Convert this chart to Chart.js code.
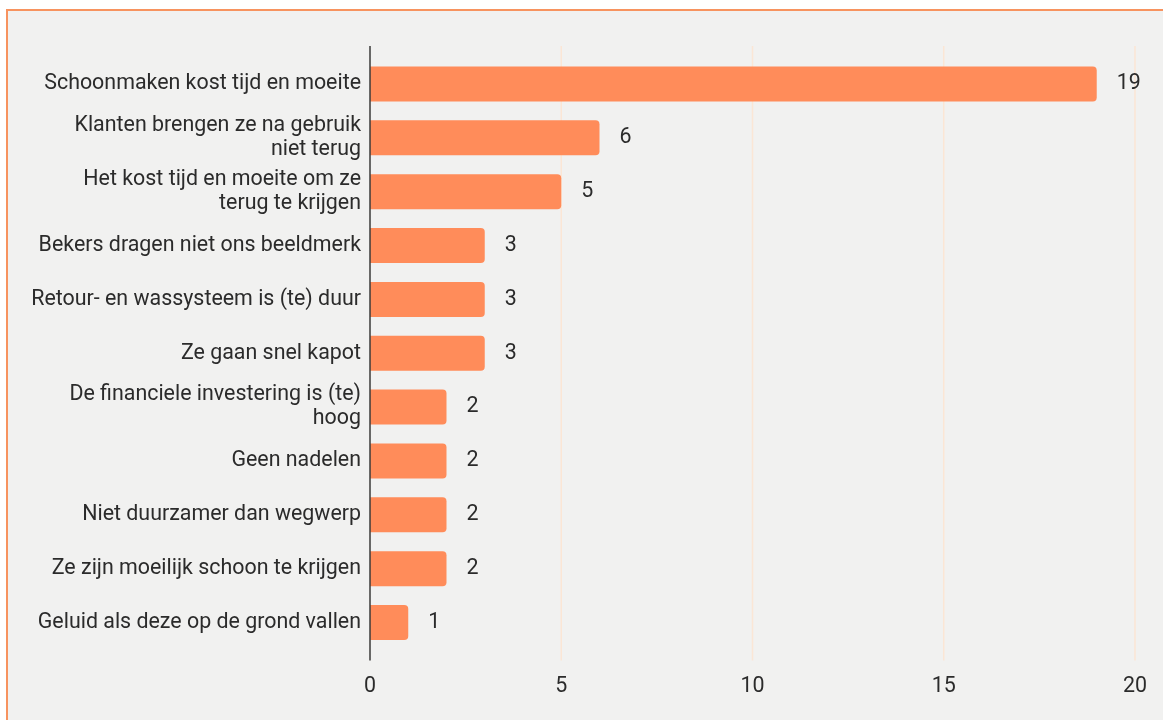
<!DOCTYPE html>
<html>
<head>
<meta charset="utf-8">
<script src="https://cdn.jsdelivr.net/npm/chart.js@4"></script>
<style>
  html, body { margin: 0; padding: 0; background: #ffffff; width: 1163px; height: 720px; overflow: hidden; }
  #frame { position: absolute; left: 6px; top: 9px; width: 1180px; height: 740px; background: #f1f1f0; border: 2px solid #f7935f; box-sizing: border-box; }
  #wrap { position: absolute; left: 0; top: 0; width: 1163px; height: 720px; }
</style>
</head>
<body>
<div id="frame"></div>
<div id="wrap"><canvas id="c" width="1163" height="720"></canvas></div>
<script>
// Nadelen van herbruikbare bekers (aantal vermeldingen)
const categories = [
  'Schoonmaken kost tijd en moeite',
  ['Klanten brengen ze na gebruik', 'niet terug'],
  ['Het kost tijd en moeite om ze', 'terug te krijgen'],
  'Bekers dragen niet ons beeldmerk',
  'Retour- en wassysteem is (te) duur',
  'Ze gaan snel kapot',
  ['De financiele investering is (te)', 'hoog'],
  'Geen nadelen',
  'Niet duurzamer dan wegwerp',
  'Ze zijn moeilijk schoon te krijgen',
  'Geluid als deze op de grond vallen'
];
const counts = [19, 6, 5, 3, 3, 3, 2, 2, 2, 2, 1];
const axisMin = 0, axisMax = 20, axisStep = 5;

const textColor = '#2b2b2b';
const barColor = '#ff8c5a';
const gridColor = '#fbe6d5';
const axisColor = '#3a3a3a';
const fontFamily = 'Roboto, "Liberation Sans", sans-serif';
const fontSize = 21.4;
const ext = 11; // how far the axis and grid lines run past the plot area

// Axis/grid extensions and value labels
const decor = {
  id: 'decor',
  beforeDatasetsDraw(chart) {
    const { ctx, chartArea, scales } = chart;
    const x = scales.x;
    ctx.save();
    ctx.lineWidth = 1.5;
    x.ticks.forEach(t => {
      if (t.value === 0) return;
      const px = x.getPixelForValue(t.value);
      ctx.strokeStyle = gridColor;
      ctx.beginPath();
      ctx.moveTo(px, chartArea.top - ext);
      ctx.lineTo(px, chartArea.bottom + ext);
      ctx.stroke();
    });
    ctx.restore();
  },
  afterDatasetsDraw(chart) {
    const { ctx, chartArea, scales } = chart;
    const x0 = scales.x.getPixelForValue(0);
    ctx.save();
    ctx.strokeStyle = axisColor;
    ctx.lineWidth = 1.5;
    ctx.beginPath();
    ctx.moveTo(x0, chartArea.top - ext);
    ctx.lineTo(x0, chartArea.bottom + ext);
    ctx.stroke();

    ctx.fillStyle = textColor;
    ctx.font = fontSize + 'px ' + fontFamily;
    ctx.textAlign = 'left';
    ctx.textBaseline = 'middle';
    const meta = chart.getDatasetMeta(0);
    meta.data.forEach((bar, i) => {
      ctx.fillText(String(counts[i]), bar.x + 20, bar.y);
    });
    ctx.restore();
  }
};

new Chart(document.getElementById('c'), {
  type: 'bar',
  data: {
    labels: categories,
    datasets: [{
      data: counts,
      backgroundColor: barColor,
      borderRadius: 4,
      borderSkipped: 'start',
      categoryPercentage: 1,
      barPercentage: 0.65
    }]
  },
  options: {
    indexAxis: 'y',
    responsive: false,
    animation: false,
    layout: { padding: { top: 57, right: 26, bottom: 0, left: 0 } },
    plugins: { legend: { display: false }, tooltip: { enabled: false } },
    scales: {
      x: {
        min: axisMin,
        max: axisMax,
        grid: { display: false },
        border: { display: false },
        ticks: {
          stepSize: axisStep,
          color: textColor,
          padding: 16,
          font: { family: fontFamily, size: fontSize }
        },
        afterFit(scale) { scale.height = 70.5; }
      },
      y: {
        grid: { display: false },
        border: { display: false },
        ticks: {
          color: textColor,
          padding: 1,
          font: { family: fontFamily, size: fontSize, lineHeight: 1.12 }
        },
        afterFit(scale) { scale.width = 370; }
      }
    }
  },
  plugins: [decor]
});
</script>
</body>
</html>
